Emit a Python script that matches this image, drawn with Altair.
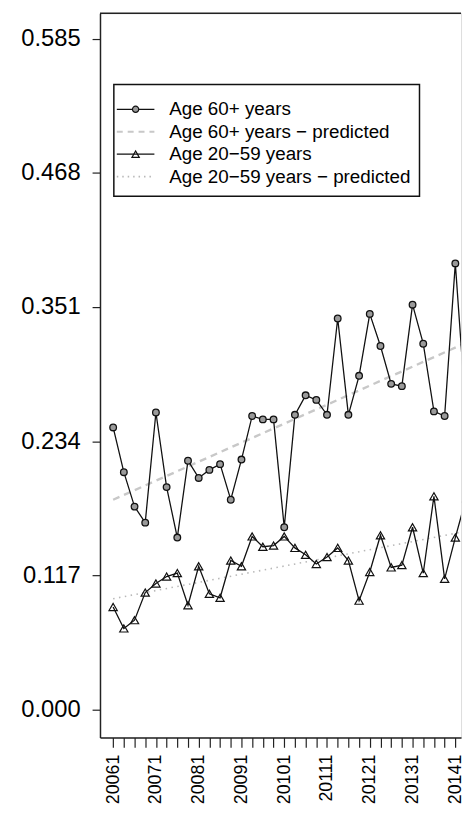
import json
import altair as alt
import pandas as pd

# ---- data (quarterly, starting 2006 Q1) ----
tick_labels = ["20061", "20071", "20081", "20091", "20101",
               "20111", "20121", "20131", "20141"]
y_ticks = [0.000, 0.117, 0.234, 0.351, 0.468, 0.585]

age60 = [0.246, 0.207, 0.177, 0.163, 0.259, 0.194, 0.150, 0.217, 0.202, 0.209,
         0.214, 0.183, 0.218, 0.256, 0.253, 0.253, 0.159, 0.257, 0.274, 0.270,
         0.257, 0.341, 0.257, 0.291, 0.345, 0.317, 0.284, 0.282, 0.353, 0.319,
         0.260, 0.256, 0.389, 0.257]
age20 = [0.0895, 0.0708, 0.078, 0.102, 0.110, 0.116, 0.119, 0.091, 0.125, 0.101,
         0.0975, 0.130, 0.125, 0.151, 0.142, 0.143, 0.151, 0.141, 0.135, 0.127,
         0.133, 0.141, 0.130, 0.095, 0.120, 0.152, 0.124, 0.126, 0.159, 0.119,
         0.186, 0.114, 0.150, 0.184]

# predicted (fitted straight lines): values at first and last quarter
pred_q = [0, 35]
pred60 = [0.183, 0.328]
pred20 = [0.0967, 0.159]

legend_labels = ["Age 60+ years", "Age 60+ years \u2212 predicted",
                 "Age 20\u221259 years", "Age 20\u221259 years \u2212 predicted"]

# ---- tables ----
obs = pd.DataFrame({"q": list(range(len(age60))), "age60": age60, "age20": age20})
pred = pd.DataFrame({"q": pred_q, "pred60": pred60, "pred20": pred20})

FONT = "Liberation Sans"
W, H = 365, 732
XDOM = [-1.23, -1.23 + W / 10.81]
YDOM = [-0.0242, 0.607]
BORDER = "#222"

label_expr = ("datum.value % 4 == 0 ? " + json.dumps(tick_labels)
              + "[floor(datum.value / 4)] : ''")

x_enc = alt.X("q:Q", scale=alt.Scale(domain=XDOM, nice=False, zero=False),
              axis=alt.Axis(values=list(range(0, 33)), labelExpr=label_expr,
                            labelAngle=-90, labelFontSize=18, labelFont=FONT,
                            labelColor="black", labelPadding=7, tickSize=10,
                            tickColor=BORDER, tickWidth=1.2, domain=True,
                            domainColor=BORDER, domainWidth=1.5,
                            grid=False, title=None, labelFlush=False,
                            labelOverlap=False))

y_axis = alt.Axis(values=y_ticks, format=".3f", labelFontSize=24,
                  labelFont=FONT, labelColor="black", labelPadding=12,
                  tickSize=8, tickColor=BORDER, tickWidth=1.2,
                  domain=True, domainColor=BORDER, domainWidth=1.5,
                  grid=False, title=None)


def yenc(field):
    return alt.Y(f"{field}:Q", scale=alt.Scale(domain=YDOM, nice=False, zero=False),
                 axis=y_axis)


base_obs = alt.Chart(obs)
base_pred = alt.Chart(pred)

p60 = base_pred.mark_line(color="#c8c8c8", strokeWidth=2.4, strokeDash=[7, 5],
                          clip=True).encode(x=x_enc, y=yenc("pred60"))
p20 = base_pred.mark_line(color="#b8b8b8", strokeWidth=1.6, strokeDash=[1.5, 4.5],
                          clip=True).encode(x=x_enc, y=yenc("pred20"))

l60 = base_obs.mark_line(color="#111", strokeWidth=1.3, clip=True).encode(
    x=x_enc, y=yenc("age60"))
m60 = base_obs.mark_point(shape="circle", size=45, filled=True, fill="#9a9a9a",
                          stroke="#111", strokeWidth=1.3, opacity=1, clip=True).encode(
    x=x_enc, y=yenc("age60"))
l20 = base_obs.mark_line(color="#111", strokeWidth=1.3, clip=True).encode(
    x=x_enc, y=yenc("age20"))
m20 = base_obs.mark_point(shape="triangle-up", size=70, filled=False,
                          stroke="#111", strokeWidth=1.2, opacity=1, clip=True).encode(
    x=x_enc, y=yenc("age20"))

one = alt.Chart(pd.DataFrame({"k": [0]}))
# top frame line (the reference is cropped on the right, so no right border)
top = one.mark_rule(color=BORDER, strokeWidth=1.5).encode(
    x=alt.value(0), x2=alt.value(W), y=alt.value(0))

# ---- manual legend (pixel positions inside the plot area) ----
lg = [one.mark_rect(fill="white", stroke="#111", strokeWidth=1.5).encode(
    x=alt.value(14), x2=alt.value(323), y=alt.value(72), y2=alt.value(185))]
row_y = [97, 119.7, 142.4, 165.1]
sym_x0, sym_x1, sym_xm, txt_x = 17, 55, 36, 70
styles = [
    dict(color="#111", width=1.3, dash=None, shape="circle"),
    dict(color="#c8c8c8", width=2.0, dash=[6, 5], shape=None),
    dict(color="#111", width=1.3, dash=None, shape="triangle-up"),
    dict(color="#b8b8b8", width=1.6, dash=[1.5, 4], shape=None),
]
for lab, yy, st in zip(legend_labels, row_y, styles):
    kw = dict(color=st["color"], strokeWidth=st["width"])
    if st["dash"]:
        kw["strokeDash"] = st["dash"]
    lg.append(one.mark_rule(**kw).encode(
        x=alt.value(sym_x0), x2=alt.value(sym_x1), y=alt.value(yy)))
    if st["shape"] == "circle":
        lg.append(one.mark_point(shape="circle", size=40, filled=True, fill="#9a9a9a",
                                 stroke="#111", strokeWidth=1.2, opacity=1).encode(
            x=alt.value(sym_xm), y=alt.value(yy)))
    elif st["shape"]:
        lg.append(one.mark_point(shape="triangle-up", size=55, filled=False,
                                 stroke="#111", strokeWidth=1.2, opacity=1).encode(
            x=alt.value(sym_xm), y=alt.value(yy)))
    lg.append(one.mark_text(text=lab, align="left", baseline="middle", fontSize=19,
                            font=FONT, color="black").encode(
        x=alt.value(txt_x), y=alt.value(yy)))

chart = alt.layer(p60, p20, l60, l20, m60, m20, top, *lg).properties(
    width=W, height=H,
    padding={"left": 12, "top": 0, "right": 0, "bottom": 0},
).configure_view(stroke=None).configure(background="white")

chart.save("out.html", embed_options={"renderer": "svg", "actions": False})
